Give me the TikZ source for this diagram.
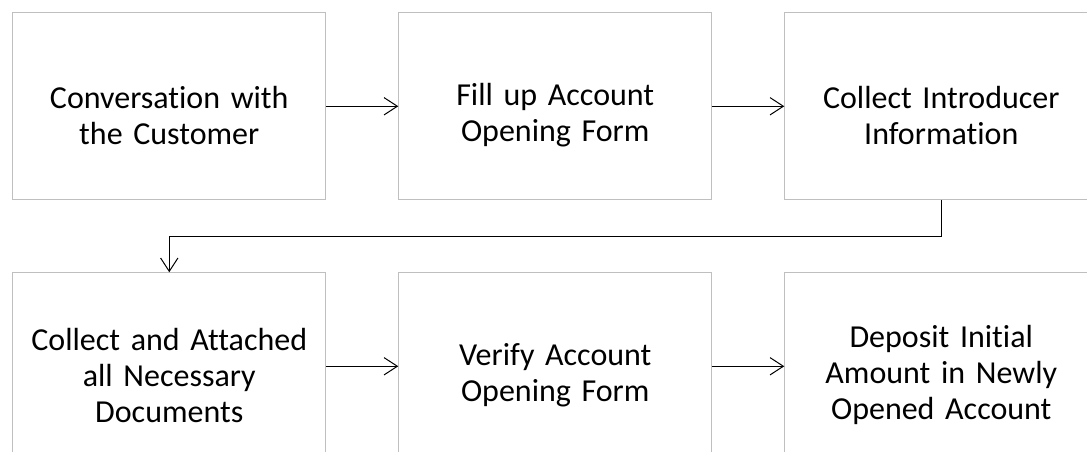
\documentclass[tikz,border=0pt]{standalone}
\usepackage{fontspec}
\setmainfont[Ligatures=NoCommon]{Carlito}
\usetikzlibrary{arrows.meta}

\begin{document}
\begin{tikzpicture}[stage/.style={draw=black!25, line width=0.75pt,
                      minimum width=234.75pt, minimum height=140.25pt,
                      text width=225pt, align=center, inner sep=0pt,
                      font=\fontsize{24}{27}\selectfont,
                      execute at begin node={\rule{0pt}{30pt}}},
                    flow/.style={-{Straight Barb[length=10pt,width=13pt]},
                      line width=0.75pt}]

                  \useasboundingbox (0,0) rectangle (815.25pt,-339pt);
                  \clip (0,0) rectangle (815.25pt,-339pt);

                  \matrix[row sep=54pt,column sep=54pt,inner sep=0pt,
                    anchor=north west] at (9pt,-9pt) {

                    % First row:
                    \node (conv) [stage] {Conversation with\\the Customer};
                    & \node (fill) [stage] {Fill up Account\\Opening Form};
                    & \node (intro) [stage] {Collect Introducer\\Information};
                    \\

                    % Second row
                    \node (docs) [stage] {Collect and Attached\\all Necessary\\Documents};
                    & \node (verify) [stage] {Verify Account\\Opening Form};
                    & \node (deposit) [stage] {Deposit Initial\\Amount in Newly\\Opened Account};
                    \\ };

                        \draw [flow] (conv) -- (fill);
                        \draw [flow] (fill) -- (intro);
                        \draw [flow] (intro.south) -- ++(0,-27pt) -| (docs.north);
                        \draw [flow] (docs) -- (verify);
                        \draw [flow] (verify) -- (deposit);
                \end{tikzpicture}
\end{document}
